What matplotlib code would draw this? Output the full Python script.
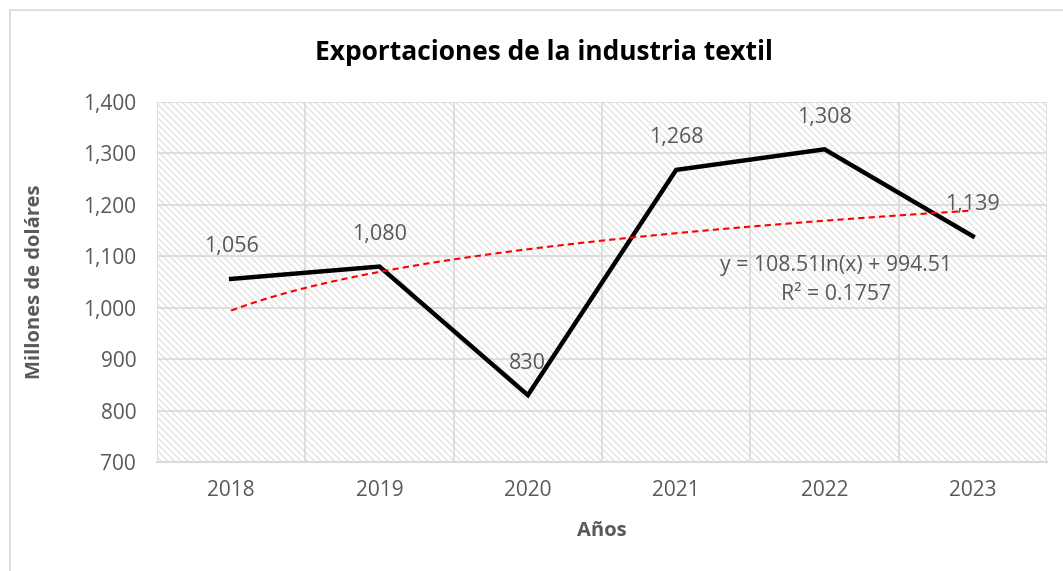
import numpy as np
import matplotlib
matplotlib.use("Agg")
import matplotlib.pyplot as plt
from matplotlib.patches import Rectangle
from matplotlib.ticker import FuncFormatter, MultipleLocator

years = ["2018", "2019", "2020", "2021", "2022", "2023"]
exports = [1056, 1080, 830, 1268, 1308, 1139]
data_labels = ["1,056", "1,080", "830", "1,268", "1,308", "1,139"]

plt.rcParams['font.family'] = ['Open Sans', 'DejaVu Sans']
plt.rcParams['hatch.linewidth'] = 0.9
GRAY = "#595959"
GRID = "#d9d9d9"

fig = plt.figure(figsize=(10.63, 5.71), dpi=100)
ax = fig.add_axes([157/1063, 1 - 462/571, (1047-157)/1063, (462-102)/571])

x = np.arange(len(years))
# hatched background
ax.add_patch(Rectangle((-0.5, 700), 6, 700, facecolor="white", edgecolor="#e0e0e0",
                       hatch="\\\\\\\\\\", linewidth=0, zorder=0))

ax.set_xlim(-0.5, len(years) - 0.5)
ax.set_ylim(700, 1400)
ax.yaxis.set_major_locator(MultipleLocator(100))
ax.yaxis.set_major_formatter(FuncFormatter(lambda v, p: f"{int(v):,}"))
ax.set_xticks(x)
ax.set_xticklabels(years)
ax.set_xticks(np.arange(-0.5, len(years)), minor=True)
ax.grid(True, axis="y", which="major", color=GRID, linewidth=1.2, zorder=1)
ax.grid(True, axis="x", which="minor", color=GRID, linewidth=1.2, zorder=1)
ax.tick_params(axis="both", which="both", length=0, labelsize=15, labelcolor=GRAY)
ax.tick_params(axis="x", pad=13)
ax.tick_params(axis="y", pad=15)
for s in ["top", "right", "left"]:
    ax.spines[s].set_visible(False)
ax.spines["bottom"].set_color(GRID)
ax.spines["bottom"].set_linewidth(1.5)

# main series
ax.plot(x, exports, color="black", linewidth=3.2, zorder=3, solid_joinstyle="miter")

# logarithmic trendline fitted from data
xn = x + 1
b, a = np.polyfit(np.log(xn), exports, 1)
xs = np.linspace(1, len(years), 200)
ax.plot(xs - 1, b * np.log(xs) + a, color="red", linestyle=(0, (3, 2)), linewidth=1.5, zorder=4)

for xi, yi, lab in zip(x, exports, data_labels):
    ax.annotate(lab, (xi, yi), xytext=(0, 23), textcoords="offset points",
                ha="center", va="center", fontsize=15.5, color=GRAY, zorder=5)

ax.text(4.08, 1083, f"y = {b:.2f}ln(x) + {a:.2f}", ha="center", va="center",
        fontsize=15.3, color=GRAY, zorder=5)
ax.text(4.08, 1025, "R² = 0.1757", ha="center", va="center",
        fontsize=15.3, color=GRAY, zorder=5)

fig.text(544/1063, 1 - 52/571, "Exportaciones de la industria textil", ha="center",
         va="center", fontsize=19, fontweight="bold", color="black")
fig.text(602/1063, 1 - 531/571, "Años", ha="center", va="center", fontsize=14.5,
         fontweight="bold", color=GRAY)
fig.text(35/1063, 1 - 282/571, "Millones de doláres", ha="center", va="center",
         rotation=90, fontsize=14.5, fontweight="bold", color=GRAY)

# chart outer border (left and top visible)
fig.add_artist(Rectangle((10/1063, -0.1), 1.2, 1 - 10/571 + 0.1, transform=fig.transFigure,
                         fill=False, edgecolor="#d9d9d9", linewidth=1.2))

fig.savefig("out.png", dpi=100)
